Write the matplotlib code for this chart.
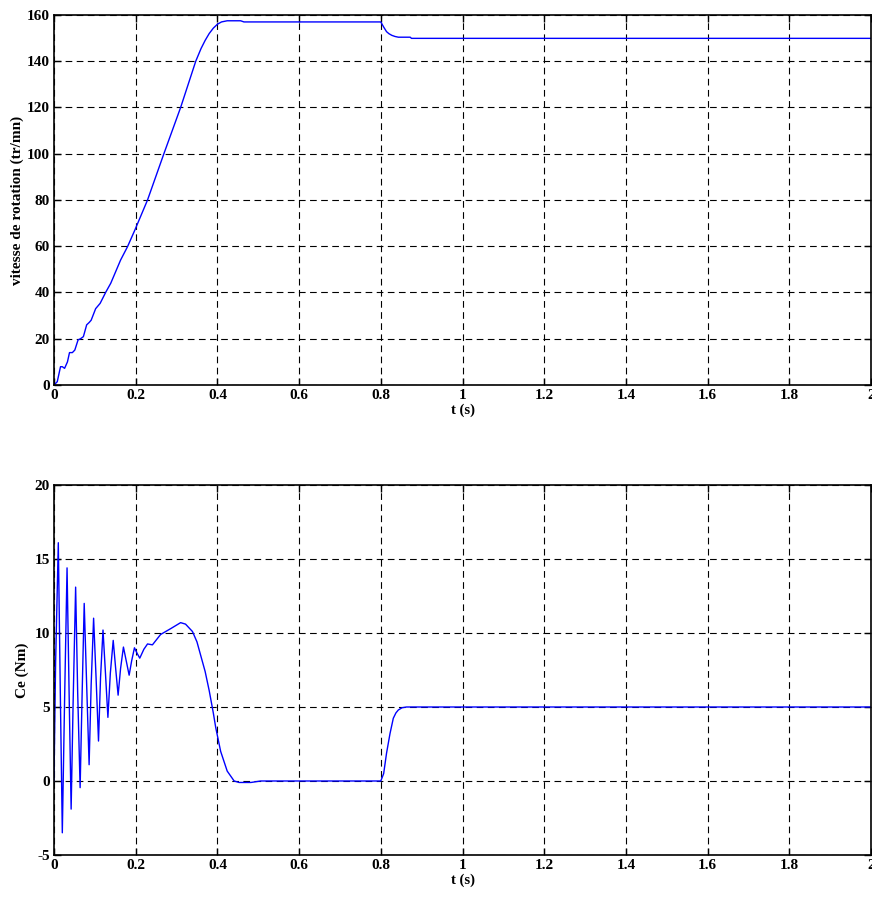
import matplotlib
matplotlib.use('Agg')
import matplotlib.pyplot as plt

# vitesse de rotation (tr/mn)
t_vit = [0, 0.008, 0.016, 0.0204, 0.026, 0.033, 0.038, 0.045, 0.051, 0.059,
         0.065, 0.072, 0.08, 0.086, 0.091, 0.102, 0.113, 0.127, 0.139, 0.151,
         0.163, 0.18, 0.198, 0.229, 0.269, 0.31, 0.347, 0.36, 0.37, 0.38,
         0.39, 0.4, 0.41, 0.424, 0.457, 0.465, 0.8, 0.807, 0.814, 0.82,
         0.827, 0.835, 0.843, 0.872, 0.875, 2.0]
vitesse = [0, 1.4, 7.9, 7.9, 7.2, 10, 14, 14, 15.1, 19.5,
           20, 20.9, 26, 27, 28, 33, 35.3, 40.2, 44, 49,
           54, 59.8, 67, 80, 100, 120, 140, 145.5, 149, 152,
           154.3, 156, 157, 157.5, 157.5, 157, 157, 154.8, 152.8, 151.9,
           151.2, 150.7, 150.4, 150.4, 149.9, 149.9]

# couple electromagnetique Ce (Nm)
t_ce = [0, 0.004, 0.0106, 0.0155, 0.0204, 0.026, 0.032, 0.037, 0.042, 0.047,
        0.053, 0.058, 0.064, 0.069, 0.074, 0.08, 0.086, 0.091, 0.097, 0.103,
        0.109, 0.114, 0.12, 0.126, 0.132, 0.138, 0.145, 0.151, 0.157, 0.163,
        0.17, 0.177, 0.184, 0.19, 0.197, 0.204, 0.21, 0.22, 0.229, 0.241,
        0.261, 0.286, 0.31, 0.322, 0.339, 0.35, 0.359, 0.37, 0.38, 0.39,
        0.396, 0.408, 0.424, 0.441, 0.453, 0.482, 0.506, 0.8, 0.807, 0.814,
        0.8225, 0.8306, 0.837, 0.843, 0.852, 0.863, 2.0]
ce = [0, 8, 16.1, 6, -3.5, 5.5, 14.4, 6, -1.9, 5.5,
      13.1, 6, -0.45, 6, 12.0, 6.5, 1.1, 6.5, 11.0, 7,
      2.7, 7, 10.2, 7.3, 4.3, 7.3, 9.5, 7.6, 5.8, 7.6,
      9.05, 8.1, 7.15, 8.1, 9.0, 8.6, 8.3, 8.9, 9.26, 9.2,
      9.9, 10.3, 10.7, 10.6, 10.1, 9.4, 8.5, 7.4, 6.1, 4.6,
      3.6, 2.0, 0.67, 0.0, -0.1, -0.1, 0.0, 0.0, 0.5, 1.87,
      3.2, 4.24, 4.6, 4.8, 4.95, 5.0, 5.0]

plt.rcParams['font.family'] = ['Liberation Serif', 'DejaVu Serif']
plt.rcParams['font.weight'] = 'bold'
plt.rcParams['axes.unicode_minus'] = False

fig = plt.figure(figsize=(8.72, 8.98), dpi=100)
ax1 = fig.add_axes([0.0619, 0.5713, 0.937, 0.412])
ax2 = fig.add_axes([0.0619, 0.0479, 0.937, 0.412])

ax1.plot(t_vit, vitesse, color='#0000ff', lw=1)
ax2.plot(t_ce, ce, color='#0000ff', lw=1)

ax1.set_ylim(0, 160)
ax1.set_yticks(range(0, 161, 20))
ax2.set_ylim(-5, 20)
ax2.set_yticks(range(-5, 21, 5))

for ax in (ax1, ax2):
    ax.set_xlim(0, 2)
    ax.set_xticks([0, 0.2, 0.4, 0.6, 0.8, 1, 1.2, 1.4, 1.6, 1.8, 2])
    ax.set_xticklabels(['0', '0.2', '0.4', '0.6', '0.8', '1', '1.2', '1.4', '1.6', '1.8', '2'])
    ax.grid(True, color='black', linestyle=(0, (6, 4)), linewidth=0.8)
    ax.tick_params(direction='in', top=True, right=True, length=5, width=1,
                   labelsize=11, pad=3)
    for lab in ax.get_xticklabels() + ax.get_yticklabels():
        lab.set_fontweight('bold')
    for s in ax.spines.values():
        s.set_linewidth(1.2)
    ax.set_xlabel('t (s)', fontsize=10.5, fontweight='bold', labelpad=1)

ax1.set_ylabel('vitesse de rotation (tr/mn)', fontsize=11, fontweight='bold', labelpad=2)
ax2.set_ylabel('Ce (Nm)', fontsize=11, fontweight='bold', labelpad=4)

fig.savefig('out.png', dpi=100)
